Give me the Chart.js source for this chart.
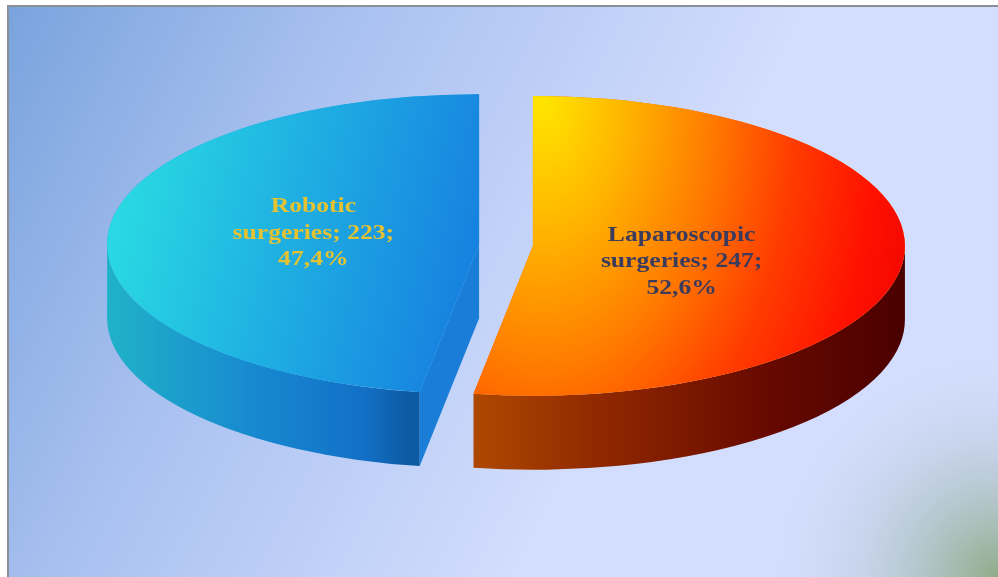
<!DOCTYPE html>
<html>
<head>
<meta charset="utf-8">
<script src="https://cdn.jsdelivr.net/npm/chart.js@4.4.1/dist/chart.umd.min.js"></script>
<style>
    html, body { margin: 0; padding: 0; background: #ffffff; }
    #pie { display: block; }
</style>
</head>
<body>
<canvas id="pie" width="998" height="577"></canvas>
<script>
// Data
const categories = ['Laparoscopic surgeries', 'Robotic surgeries'];
const counts = [247, 223];
const baseColors = ['#ff7000', '#1fa8e2'];

// Look of the 3D pie
const TILT = 0.403;     // vertical squash of the top face
const DEPTH = 74;       // wall height (px)
const EXPLODE = 27;     // slice shift from the centre (px)
const RADIUS = 372;

const labelColors = ['#3b3b5d', '#e4c232'];
const labelNudge = [[-7, 11], [-10, -6]];

// top face shading, screen px relative to the slice centre
// orange: stretched radial from the top corner, blue: linear left -> right
const topShade = [
    { type: 'radial', at: [10, -148], r: 420, sy: 1.6,
      stops: [[0, '#ffe600'], [0.2, '#ffb400'], [0.4, '#ff7c00'], [0.6, '#ff3c00'], [0.8, '#ff1000'], [1, '#e80000']] },
    { type: 'linear', v: [-359, -22, -9, 58],
      stops: [[0, '#29d8e2'], [0.45, '#1fb0e2'], [1, '#1680e0']] }
];
const wallGrad = [
    { v: [-65, 372], stops: [[0, '#b04a00'], [0.3, '#902800'], [0.7, '#650800'], [1, '#4a0000']] },
    { v: [-372, -70], stops: [[0, '#20b2c8'], [0.5, '#1788d0'], [0.85, '#1270c6'], [1, '#0c5aa2']] }
];
const cutFace = ['#7a1a00', '#1a7ed8'];

function fillStops(g, stops) {
    stops.forEach(s => g.addColorStop(s[0], s[1]));
    return g;
}

function sliceShift(el) {
    const mid = (el.startAngle + el.endAngle) / 2;
    return { x: Math.cos(mid) * EXPLODE, y: Math.sin(mid) * EXPLODE, mid: mid };
}

const backdrop = {
    id: 'backdrop',
    beforeDraw(chart) {
        const ctx = chart.ctx;
        const w = chart.width, h = chart.height;
        ctx.save();
        ctx.fillStyle = '#ffffff';
        ctx.fillRect(0, 0, w, h);
        const g = ctx.createLinearGradient(0, 0, 640, 330);
        g.addColorStop(0, '#78a2dc');
        g.addColorStop(0.45, '#a9c1f0');
        g.addColorStop(1, '#d3ddfd');
        ctx.fillStyle = g;
        ctx.fillRect(9, 7, w - 9, h - 7);
        const r = ctx.createRadialGradient(w, h, 0, w, h, 230);
        r.addColorStop(0, 'rgba(140,168,128,0.95)');
        r.addColorStop(0.5, 'rgba(170,190,190,0.45)');
        r.addColorStop(1, 'rgba(211,221,253,0)');
        ctx.fillStyle = r;
        ctx.fillRect(9, 7, w - 9, h - 7);
        ctx.fillStyle = '#8a9098';
        ctx.fillRect(7, 5, w - 7, 2);
        ctx.fillRect(7, 5, 2, h - 5);
        ctx.restore();
    }
};

const pie3d = {
    id: 'pie3d',
    beforeDatasetsDraw(chart) {
        const ctx = chart.ctx;
        const meta = chart.getDatasetMeta(0);
        meta.data.forEach((el, i) => {
            const s = sliceShift(el);
            const X = el.x + s.x;
            const Y = el.y + s.y * TILT;
            const R = el.outerRadius;
            const ry = R * TILT;
            const a0 = el.startAngle, a1 = el.endAngle;

            ctx.save();
            // cut faces that turn towards the viewer
            [[a0, Math.cos(a0) < -0.01], [a1, Math.cos(a1) > 0.01]].forEach(([a, show]) => {
                if (!show) return;
                const px = X + Math.cos(a) * R, py = Y + Math.sin(a) * ry;
                ctx.beginPath();
                ctx.moveTo(X, Y);
                ctx.lineTo(px, py);
                ctx.lineTo(px, py + DEPTH);
                ctx.lineTo(X, Y + DEPTH);
                ctx.closePath();
                ctx.fillStyle = cutFace[i];
                ctx.fill();
            });

            // outer wall, front half only
            const t0 = Math.max(a0, 0), t1 = Math.min(a1, Math.PI);
            if (t1 > t0) {
                const wg = wallGrad[i];
                ctx.fillStyle = fillStops(ctx.createLinearGradient(X + wg.v[0], 0, X + wg.v[1], 0), wg.stops);
                ctx.beginPath();
                ctx.ellipse(X, Y, R, ry, 0, t0, t1);
                ctx.ellipse(X, Y + DEPTH, R, ry, 0, t1, t0, true);
                ctx.closePath();
                ctx.fill();
            }
            ctx.restore();

            // top face, drawn by the arc element itself on a squashed context
            ctx.save();
            ctx.translate(0, el.y * (1 - TILT));
            ctx.scale(1, TILT);
            ctx.translate(s.x, s.y);
            el.draw(ctx);
            ctx.restore();

            // shade the same outline (path left by the arc) in screen space
            const sh = topShade[i];
            ctx.save();
            ctx.clip();
            if (sh.type === 'radial') {
                ctx.translate(X + sh.at[0], Y + sh.at[1]);
                ctx.scale(1, sh.sy);
                ctx.fillStyle = fillStops(ctx.createRadialGradient(0, 0, 0, 0, 0, sh.r), sh.stops);
            } else {
                ctx.fillStyle = fillStops(ctx.createLinearGradient(
                    X + sh.v[0], Y + sh.v[1], X + sh.v[2], Y + sh.v[3]), sh.stops);
            }
            ctx.fillRect(-2000, -2000, 4000, 4000);
            ctx.restore();
        });
        return false;
    },
    afterDraw(chart) {
        const ctx = chart.ctx;
        const meta = chart.getDatasetMeta(0);
        const total = counts.reduce((a, b) => a + b, 0);
        ctx.save();
        ctx.font = 'bold 21px "Liberation Serif", "Times New Roman", serif';
        ctx.textAlign = 'center';
        ctx.textBaseline = 'middle';
        meta.data.forEach((el, i) => {
            const s = sliceShift(el);
            const R = el.outerRadius;
            const x = el.x + s.x + Math.cos(s.mid) * R * 0.42 + labelNudge[i][0];
            const y = el.y + s.y * TILT + Math.sin(s.mid) * R * 0.42 * TILT + labelNudge[i][1];
            const words = categories[i].split(' ');
            const pct = (counts[i] / total * 100).toFixed(1).replace('.', ',') + '%';
            const lines = [words[0], words.slice(1).join(' ') + '; ' + counts[i] + ';', pct];
            ctx.fillStyle = labelColors[i];
            ctx.save();
            ctx.translate(x, y);
            ctx.scale(1.22, 1);   // the original lettering is set wide
            lines.forEach((t, j) => ctx.fillText(t, 0, (j - 1) * 26.5));
            ctx.restore();
        });
        ctx.restore();
    }
};

new Chart(document.getElementById('pie'), {
    type: 'pie',
    data: {
        labels: categories,
        datasets: [{
            data: counts,
            borderWidth: 0,
            backgroundColor: baseColors
        }]
    },
    options: {
        responsive: false,
        animation: false,
        devicePixelRatio: 1,
        radius: RADIUS,
        layout: { padding: { left: 14, right: 0, top: 0, bottom: 87 } },
        plugins: {
            legend: { display: false },
            tooltip: { enabled: false }
        }
    },
    plugins: [backdrop, pie3d]
});
</script>
</body>
</html>
